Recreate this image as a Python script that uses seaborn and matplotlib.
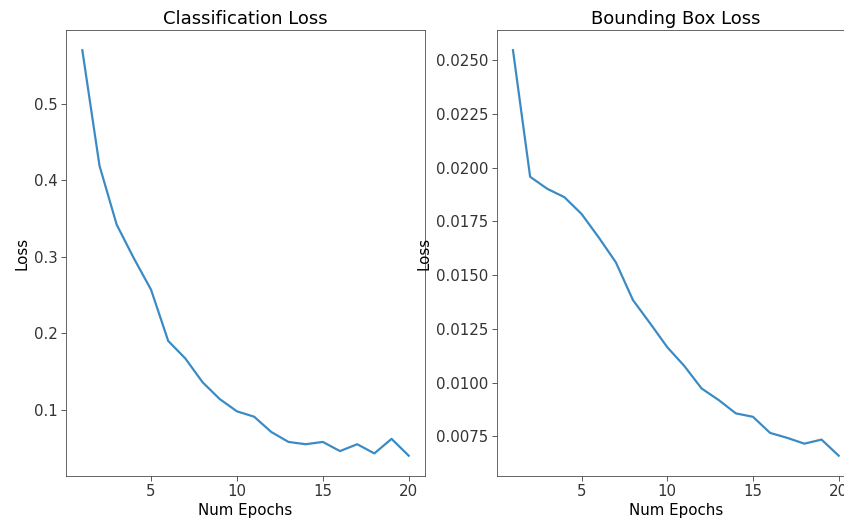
import matplotlib
matplotlib.use('Agg')
import matplotlib.pyplot as plt
import numpy as np
import pandas as pd
import seaborn as sns

epochs = list(range(1, 21))
cls_loss = [0.570, 0.419, 0.342, 0.298, 0.257, 0.190, 0.167, 0.136, 0.114, 0.098,
            0.091, 0.071, 0.058, 0.055, 0.058, 0.046, 0.055, 0.043, 0.062, 0.040]
bbox_loss = [0.02547, 0.01958, 0.01902, 0.01863, 0.01785, 0.01676, 0.01560, 0.01384,
             0.01276, 0.01165, 0.01077, 0.00973, 0.00919, 0.00857, 0.00841, 0.00766,
             0.00743, 0.00716, 0.00735, 0.00660]

df = pd.DataFrame({'epoch': epochs, 'cls': cls_loss, 'bbox': bbox_loss})

fig = plt.figure(figsize=(844 / 72, 526 / 72), dpi=72)
ax1 = fig.add_axes([0.0782, 0.0951, 0.4254, 0.848])
ax2 = fig.add_axes([0.5885, 0.0951, 0.4245, 0.848])

sns.lineplot(data=df, x='epoch', y='cls', ax=ax1, color='#3a8ac4', linewidth=2.2)
sns.lineplot(data=df, x='epoch', y='bbox', ax=ax2, color='#3a8ac4', linewidth=2.2)

ax1.set_title('Classification Loss', fontsize=18)
ax2.set_title('Bounding Box Loss', fontsize=18)
for ax in (ax1, ax2):
    ax.set_xlabel('Num Epochs', fontsize=15)
    ax.set_ylabel('Loss', fontsize=15)
    ax.set_xticks([5, 10, 15, 20])
    ax.tick_params(labelsize=15, colors='#333333', length=5)
    for s in ax.spines.values():
        s.set_color('#444444')

ax2.yaxis.set_major_formatter(matplotlib.ticker.FormatStrFormatter('%.4f'))

fig.savefig('out.png', dpi=72)
